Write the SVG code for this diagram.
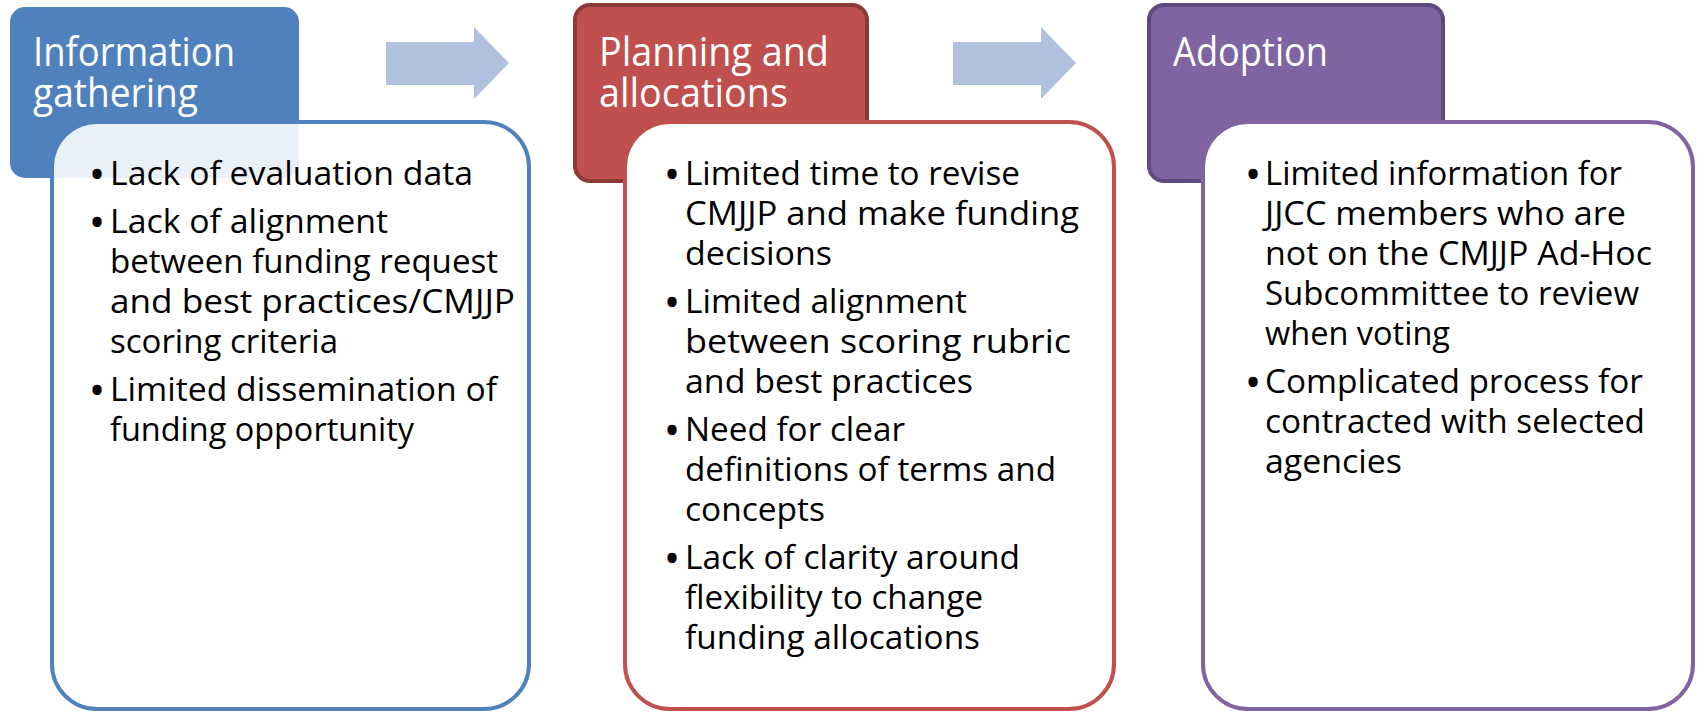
<svg xmlns="http://www.w3.org/2000/svg" width="1697" height="712" viewBox="0 0 1697 712">
<style>
.hd{font-family:"Open Sans","Liberation Sans",sans-serif;font-size:40px;fill:#ffffff}
.tx{font-family:"Open Sans","Liberation Sans",sans-serif;font-size:33px;fill:#000000}
.bl{font-family:"Open Sans","Liberation Sans",sans-serif;font-size:44px;fill:#000000;text-anchor:middle}
.arrow{fill:#B0C1DD}
</style>
<rect x="0" y="0" width="1697" height="712" fill="#ffffff"/>
<g id="connectors">
<path class="arrow" d="M386,42 H474 V27 L509,63 L474,99 V85 H386 Z"/>
<path class="arrow" d="M953,42 H1041 V27 L1076,63 L1041,99 V85 H953 Z"/>
</g>
<g id="node-information-gathering">
<rect x="10" y="7" width="289" height="171" rx="15" fill="#4F81BD"/>
<text class="hd" x="33" y="66" textLength="202" lengthAdjust="spacingAndGlyphs">Information</text>
<text class="hd" x="33" y="107" textLength="165" lengthAdjust="spacingAndGlyphs">gathering</text>
<rect x="52" y="122" width="477" height="587" rx="45" fill="#ffffff" fill-opacity="0.88" stroke="#4F81BD" stroke-width="4"/>
<text class="bl" x="97" y="190">•</text>
<text class="tx" x="110" y="185" textLength="363" lengthAdjust="spacingAndGlyphs">Lack of evaluation data</text>
<text class="bl" x="97" y="238">•</text>
<text class="tx" x="110" y="233" textLength="278" lengthAdjust="spacingAndGlyphs">Lack of alignment</text>
<text class="tx" x="110" y="273" textLength="388" lengthAdjust="spacingAndGlyphs">between funding request</text>
<text class="tx" x="110" y="313" textLength="405" lengthAdjust="spacingAndGlyphs">and best practices/CMJJP</text>
<text class="tx" x="110" y="353" textLength="228" lengthAdjust="spacingAndGlyphs">scoring criteria</text>
<text class="bl" x="97" y="406">•</text>
<text class="tx" x="110" y="401" textLength="387" lengthAdjust="spacingAndGlyphs">Limited dissemination of</text>
<text class="tx" x="110" y="441" textLength="304" lengthAdjust="spacingAndGlyphs">funding opportunity</text>
</g>
<g id="node-planning-allocations">
<rect x="575" y="5" width="292" height="176" rx="15" fill="#C0504D" stroke="#8C3A38" stroke-width="4"/>
<text class="hd" x="599" y="66" textLength="230" lengthAdjust="spacingAndGlyphs">Planning and</text>
<text class="hd" x="599" y="107" textLength="189" lengthAdjust="spacingAndGlyphs">allocations</text>
<rect x="625" y="122" width="489" height="587" rx="45" fill="#ffffff" stroke="#C0504D" stroke-width="4"/>
<text class="bl" x="672" y="190">•</text>
<text class="tx" x="685" y="185" textLength="335" lengthAdjust="spacingAndGlyphs">Limited time to revise</text>
<text class="tx" x="685" y="225" textLength="394" lengthAdjust="spacingAndGlyphs">CMJJP and make funding</text>
<text class="tx" x="685" y="265" textLength="147" lengthAdjust="spacingAndGlyphs">decisions</text>
<text class="bl" x="672" y="318">•</text>
<text class="tx" x="685" y="313" textLength="282" lengthAdjust="spacingAndGlyphs">Limited alignment</text>
<text class="tx" x="685" y="353" textLength="386" lengthAdjust="spacingAndGlyphs">between scoring rubric</text>
<text class="tx" x="685" y="393" textLength="288" lengthAdjust="spacingAndGlyphs">and best practices</text>
<text class="bl" x="672" y="446">•</text>
<text class="tx" x="685" y="441" textLength="220" lengthAdjust="spacingAndGlyphs">Need for clear</text>
<text class="tx" x="685" y="481" textLength="371" lengthAdjust="spacingAndGlyphs">definitions of terms and</text>
<text class="tx" x="685" y="521" textLength="140" lengthAdjust="spacingAndGlyphs">concepts</text>
<text class="bl" x="672" y="574">•</text>
<text class="tx" x="685" y="569" textLength="335" lengthAdjust="spacingAndGlyphs">Lack of clarity around</text>
<text class="tx" x="685" y="609" textLength="298" lengthAdjust="spacingAndGlyphs">flexibility to change</text>
<text class="tx" x="685" y="649" textLength="295" lengthAdjust="spacingAndGlyphs">funding allocations</text>
</g>
<g id="node-adoption">
<rect x="1149" y="5" width="294" height="176" rx="15" fill="#8064A2" stroke="#5E4A7E" stroke-width="4"/>
<text class="hd" x="1173" y="66" textLength="155" lengthAdjust="spacingAndGlyphs">Adoption</text>
<rect x="1203" y="122" width="490" height="587" rx="45" fill="#ffffff" stroke="#8064A2" stroke-width="4"/>
<text class="bl" x="1253" y="190">•</text>
<text class="tx" x="1265" y="185" textLength="357" lengthAdjust="spacingAndGlyphs">Limited information for</text>
<text class="tx" x="1265" y="225" textLength="361" lengthAdjust="spacingAndGlyphs">JJCC members who are</text>
<text class="tx" x="1265" y="265" textLength="387" lengthAdjust="spacingAndGlyphs">not on the CMJJP Ad-Hoc</text>
<text class="tx" x="1265" y="305" textLength="374" lengthAdjust="spacingAndGlyphs">Subcommittee to review</text>
<text class="tx" x="1265" y="345" textLength="185" lengthAdjust="spacingAndGlyphs">when voting</text>
<text class="bl" x="1253" y="398">•</text>
<text class="tx" x="1265" y="393" textLength="378" lengthAdjust="spacingAndGlyphs">Complicated process for</text>
<text class="tx" x="1265" y="433" textLength="380" lengthAdjust="spacingAndGlyphs">contracted with selected</text>
<text class="tx" x="1265" y="473" textLength="137" lengthAdjust="spacingAndGlyphs">agencies</text>
</g>
</svg>
